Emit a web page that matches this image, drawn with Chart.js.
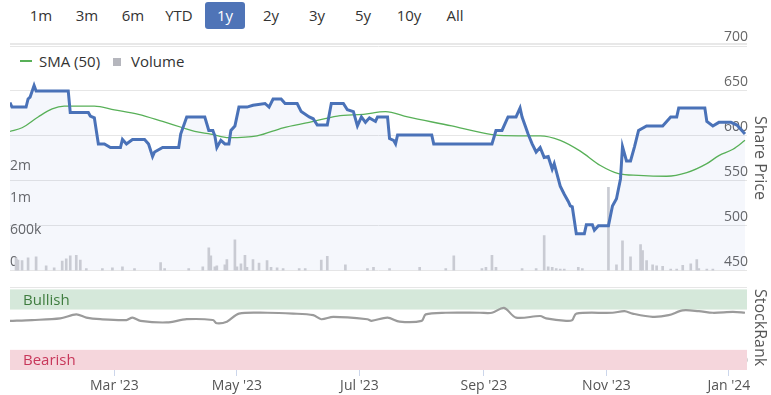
<!DOCTYPE html>
<html>
<head>
<meta charset="utf-8">
<script src="https://cdn.jsdelivr.net/npm/chart.js@4.4.0/dist/chart.umd.min.js"></script>
<style>
    body { margin: 0; width: 771px; height: 395px; overflow: hidden; background: #fff; position: relative; font-family: "Open Sans", sans-serif; }
    #rangos { position: absolute; left: 21px; top: 2px; display: flex; gap: 6px; }
    #rangos span { width: 40px; height: 27px; line-height: 27px; text-align: center; font-size: 15px; color: #333; border-radius: 3px; }
    #rangos span.activo { background: #4f74b7; color: #fff; }
    #separador { position: absolute; left: 10px; width: 737px; top: 43px; height: 2px; background: #e8e8e8; }
    #linea-rank { position: absolute; left: 10px; width: 737px; top: 287px; height: 1px; background: #e6e6e6; }
    #leyenda { position: absolute; left: 20px; top: 51px; height: 20px; font-size: 15px; color: #333; display: flex; align-items: center; }
    canvas { position: absolute; left: 0; }
    .titulo-eje { position: absolute; writing-mode: vertical-rl; font-size: 16px; line-height: 20px; color: #555; white-space: nowrap; }
</style>
</head>
<body>
<div id="rangos">
    <span>1m</span><span>3m</span><span>6m</span><span>YTD</span><span class="activo">1y</span>
    <span>2y</span><span>3y</span><span>5y</span><span>10y</span><span>All</span>
</div>
<div id="separador"></div>
<div id="leyenda">
    <span style="display:inline-block;width:12px;height:2px;background:#58b058;margin-right:7px;"></span>
    <span>SMA (50)</span>
    <span style="display:inline-block;width:8px;height:8px;background:#b5b6bd;margin:2px 10px 0 13px;"></span>
    <span>Volume</span>
</div>
<canvas id="grafico-precio" width="771" height="280" style="top:0;"></canvas>
<div id="linea-rank"></div>
<canvas id="grafico-rank" width="771" height="115" style="top:280px;"></canvas>
<div class="titulo-eje" style="left:751px; top:116px;">Share Price</div>
<div class="titulo-eje" style="left:751px; top:289px;">StockRank</div>

<script>
const rangoInicio = '2023-01-08', rangoFin = '2024-01-10';

const precioFechas = ['2023-01-08','2023-01-09','2023-01-16','2023-01-17','2023-01-18','2023-01-20','2023-01-21','2023-02-06','2023-02-07','2023-02-16',
    '2023-02-17','2023-02-19','2023-02-21','2023-02-24','2023-02-27','2023-03-04','2023-03-05','2023-03-07','2023-03-10','2023-03-16',
    '2023-03-18','2023-03-20','2023-03-21','2023-03-25','2023-04-02','2023-04-03','2023-04-06','2023-04-15','2023-04-17','2023-04-19',
    '2023-04-20','2023-04-21','2023-04-23','2023-04-25','2023-04-27','2023-04-28','2023-04-30','2023-05-02','2023-05-06','2023-05-09',
    '2023-05-15','2023-05-17','2023-05-19','2023-05-23','2023-05-25','2023-05-31','2023-06-02','2023-06-06','2023-06-08','2023-06-10',
    '2023-06-15','2023-06-17','2023-06-23','2023-06-25','2023-06-28','2023-06-30','2023-07-02','2023-07-04','2023-07-06','2023-07-09',
    '2023-07-10','2023-07-15','2023-07-16','2023-07-18','2023-07-19','2023-07-20','2023-08-06','2023-08-07','2023-09-05','2023-09-07',
    '2023-09-10','2023-09-13','2023-09-17','2023-09-19','2023-09-20','2023-09-23','2023-09-25','2023-09-27','2023-09-29','2023-10-01',
    '2023-10-03','2023-10-05','2023-10-06','2023-10-09','2023-10-11','2023-10-13','2023-10-14','2023-10-15','2023-10-17','2023-10-21',
    '2023-10-22','2023-10-25','2023-10-26','2023-10-28','2023-11-02','2023-11-04','2023-11-06','2023-11-08','2023-11-09','2023-11-11',
    '2023-11-13','2023-11-15','2023-11-17','2023-11-21','2023-11-29','2023-12-01','2023-12-03','2023-12-06','2023-12-07','2023-12-20',
    '2023-12-21','2023-12-24','2023-12-27','2024-01-02','2024-01-05','2024-01-09'];
const precioValores = [637,632,632,641,643,656,650,650,626,626,
    622,620,591,591,587,587,596,591,596,596,
    591,577,582,587,587,602,621,621,606,606,
    600,587,595,591,591,606,611,632,632,634,
    636,632,641,641,636,636,627,621,619,612,
    612,636,636,629,627,611,621,615,620,616,
    621,621,597,595,591,601,601,591,591,606,
    606,621,621,631,621,602,591,582,587,576,
    577,563,569,544,535,527,522,521,491,491,
    501,501,495,500,500,522,530,552,588,572,
    572,588,606,611,611,616,621,621,631,631,
    616,611,615,615,612,602];

const smaFechas = ['2023-01-08','2023-01-14','2023-01-22','2023-01-29','2023-02-04','2023-02-19','2023-03-01','2023-03-13','2023-03-25','2023-04-04',
    '2023-04-10','2023-04-18','2023-04-27','2023-05-11','2023-05-24','2023-06-06','2023-06-20','2023-07-03','2023-07-14','2023-07-25',
    '2023-08-16','2023-08-24','2023-09-06','2023-09-18','2023-09-29','2023-10-09','2023-10-19','2023-10-29','2023-11-07','2023-11-17',
    '2023-12-01','2023-12-11','2023-12-21','2023-12-27','2024-01-03','2024-01-09'];
const smaValores = [605,609,621,630,633,633,629,624,616,609,
    605,602,598,600,609,615,622,624,627,621,
    611,607,601,600,600,595,583,567,558,556,
    555,559,569,578,585,595];

const volumenFechas = ['2023-01-11','2023-01-12','2023-01-14','2023-01-17','2023-01-21','2023-01-26','2023-01-30','2023-02-03','2023-02-05','2023-02-07',
    '2023-02-10','2023-02-12','2023-02-15','2023-02-23','2023-02-28','2023-03-05','2023-03-11','2023-03-24','2023-03-26','2023-04-07',
    '2023-04-14','2023-04-17','2023-04-18','2023-04-20','2023-04-21','2023-04-25','2023-04-26','2023-04-30','2023-05-01','2023-05-03',
    '2023-05-05','2023-05-06','2023-05-09','2023-05-12','2023-05-16','2023-05-18','2023-05-21','2023-05-24','2023-06-01','2023-06-04',
    '2023-06-12','2023-06-15','2023-06-24','2023-07-05','2023-07-08','2023-07-16','2023-07-31','2023-08-13','2023-08-17','2023-08-31',
    '2023-09-02','2023-09-05','2023-09-07','2023-09-20','2023-09-27','2023-10-01','2023-10-03','2023-10-05','2023-10-07','2023-10-09',
    '2023-10-11','2023-10-18','2023-10-20','2023-11-02','2023-11-06','2023-11-09','2023-11-13','2023-11-18','2023-11-19','2023-11-21',
    '2023-11-24','2023-11-26','2023-11-29','2023-12-03','2023-12-06','2023-12-09','2023-12-13','2023-12-16','2023-12-17','2023-12-21',
    '2023-12-24'];
const volumenValores = [240000,200000,190000,240000,260000,90000,50000,180000,220000,280000,
    290000,200000,40000,40000,50000,70000,40000,150000,40000,40000,
    70000,430000,280000,70000,90000,110000,210000,580000,70000,130000,
    290000,60000,210000,140000,190000,60000,50000,40000,40000,40000,
    200000,270000,110000,40000,60000,40000,60000,40000,280000,40000,
    60000,290000,60000,40000,40000,660000,70000,60000,40000,30000,
    30000,60000,40000,1570000,110000,560000,260000,490000,380000,190000,
    110000,90000,80000,30000,30000,100000,130000,210000,40000,30000,
    30000];

const rankFechas = ['2023-01-08','2023-01-19','2023-02-02','2023-02-10','2023-02-15','2023-02-22','2023-03-07','2023-03-10','2023-03-14','2023-03-27',
    '2023-04-06','2023-04-19','2023-04-21','2023-04-26','2023-05-02','2023-05-16','2023-05-29','2023-06-08','2023-06-12','2023-06-18',
    '2023-07-05','2023-07-07','2023-07-15','2023-07-21','2023-08-01','2023-08-03','2023-08-13','2023-08-30','2023-09-05','2023-09-11',
    '2023-09-17','2023-09-29','2023-10-02','2023-10-12','2023-10-15','2023-10-17','2023-11-04','2023-11-10','2023-11-14','2023-11-24',
    '2023-12-02','2023-12-09','2023-12-17','2023-12-24','2024-01-03','2024-01-09'];
const rankValores = [61,62,64,69,65,63,62,65,61,59,
    63,62,58,60,70,71,70,68,63,66,
    63,61,65,60,61,69,71,71,71,77,
    65,67,64,61,62,70,71,73,70,66,
    68,74,73,71,72,71];

const precioTicks = [450, 500, 550, 600, 650, 700];
const volumenTicks = [0, 600000, 1200000, 1800000];
const volumenEtiquetas = ['0', '600k', '1m', '2m'];
const mesTicks = ['2023-03-01','2023-05-01','2023-07-01','2023-09-01','2023-11-01','2024-01-01'];
const mesEtiquetas = ["Mar '23", "May '23", "Jul '23", "Sep '23", "Nov '23", "Jan '24"];
const bandaNombres = ['Bullish', 'Bearish'];
const bandaDesde = [75, 0];
const bandaHasta = [100, 25];

const dia = s => { const [a, m, d] = s.split('-').map(Number); return Date.UTC(a, m - 1, d) / 864e5; };
const puntos = (fechas, valores) => fechas.map((f, i) => ({ x: dia(f), y: valores[i] }));
const xMin = dia(rangoInicio), xMax = dia(rangoFin);

Chart.defaults.font.family = '"Open Sans", sans-serif';
const sinAncho = s => { s.width = 0; };

new Chart(document.getElementById('grafico-precio'), {
    type: 'line',
    data: {
        datasets: [
            { label: 'Share Price', data: puntos(precioFechas, precioValores), yAxisID: 'precio', borderColor: '#4a72b8', borderWidth: 3,
              pointRadius: 0, fill: 'start', backgroundColor: 'rgba(60, 100, 200, 0.05)', tension: 0, order: 0 },
            { label: 'SMA (50)', data: puntos(smaFechas, smaValores), yAxisID: 'precio', borderColor: '#58b058', borderWidth: 1.3,
              pointRadius: 0, fill: false, cubicInterpolationMode: 'monotone', order: 1 },
            { type: 'bar', label: 'Volume', data: puntos(volumenFechas, volumenValores), yAxisID: 'volumen',
              backgroundColor: '#c9cbd3', barThickness: 2, order: 2 }
        ]
    },
    options: {
        responsive: false, animation: false, events: [],
        layout: { padding: { top: 46, bottom: 8, left: 10, right: 24 } },
        plugins: { legend: { display: false }, tooltip: { enabled: false }, filler: { drawTime: 'beforeDatasetsDraw' } },
        scales: {
            x: { type: 'linear', min: xMin, max: xMax, offset: false, display: false },
            precio: {
                type: 'linear', position: 'right', min: 450, max: 700, afterFit: sinAncho,
                afterBuildTicks: s => { s.ticks = precioTicks.map(v => ({ value: v })); },
                grid: { color: '#e6e6e6', drawTicks: false }, border: { display: false },
                ticks: { mirror: true, padding: 1, labelOffset: -9, color: '#666', font: { size: 14 } }
            },
            volumen: {
                type: 'linear', position: 'left', min: 0, max: 4237500, afterFit: sinAncho,
                afterBuildTicks: s => { s.ticks = volumenTicks.map(v => ({ value: v })); },
                grid: { display: false }, border: { display: false },
                ticks: { mirror: true, padding: 0, labelOffset: -9, color: '#666', font: { size: 14 },
                         callback: (v, i) => volumenEtiquetas[i] }
            }
        }
    }
});

const bandasPlugin = {
    id: 'bandas',
    beforeDatasetsDraw(chart) {
        const { ctx, chartArea: { left, right }, scales: { rank } } = chart;
        const fondos = ['#d5e8da', '#f5d6dc'], textos = ['#3f7d3f', '#c8375a'];
        ctx.save();
        bandaNombres.forEach((nombre, i) => {
            const arriba = rank.getPixelForValue(bandaHasta[i]), abajo = rank.getPixelForValue(bandaDesde[i]);
            ctx.fillStyle = fondos[i];
            ctx.fillRect(left, arriba, right - left, abajo - arriba);
            ctx.fillStyle = textos[i];
            ctx.font = '15px "Open Sans"';
            ctx.textBaseline = 'middle';
            ctx.fillText(nombre, left + 13, abajo - 9);
        });
        ctx.restore();
    }
};

new Chart(document.getElementById('grafico-rank'), {
    type: 'line',
    data: {
        datasets: [{ label: 'StockRank', data: puntos(rankFechas, rankValores), yAxisID: 'rank', borderColor: '#9b9b9b',
                     borderWidth: 2.2, pointRadius: 0, tension: 0.3 }]
    },
    options: {
        responsive: false, animation: false, events: [],
        layout: { padding: { top: 9, bottom: 0, left: 10, right: 24 } },
        plugins: { legend: { display: false }, tooltip: { enabled: false } },
        scales: {
            x: {
                type: 'linear', min: xMin, max: xMax, afterFit: s => { s.height = 25; },
                afterBuildTicks: s => { s.ticks = mesTicks.map(f => ({ value: dia(f) })); },
                grid: { drawOnChartArea: false, drawTicks: true, tickLength: 6, color: '#ccd6eb' }, border: { display: false },
                ticks: { padding: 2, color: '#555', maxRotation: 0, autoSkip: false, font: { size: 14 },
                         callback: (v, i) => mesEtiquetas[i] }
            },
            rank: {
                type: 'linear', position: 'right', min: 0, max: 100, afterFit: sinAncho,
                afterBuildTicks: s => { s.ticks = [{ value: 0 }]; },
                grid: { display: false }, border: { display: false },
                ticks: { mirror: true, padding: 1, labelOffset: -9, color: '#666', font: { size: 14 } }
            }
        }
    },
    plugins: [bandasPlugin]
});
</script>
</body>
</html>
